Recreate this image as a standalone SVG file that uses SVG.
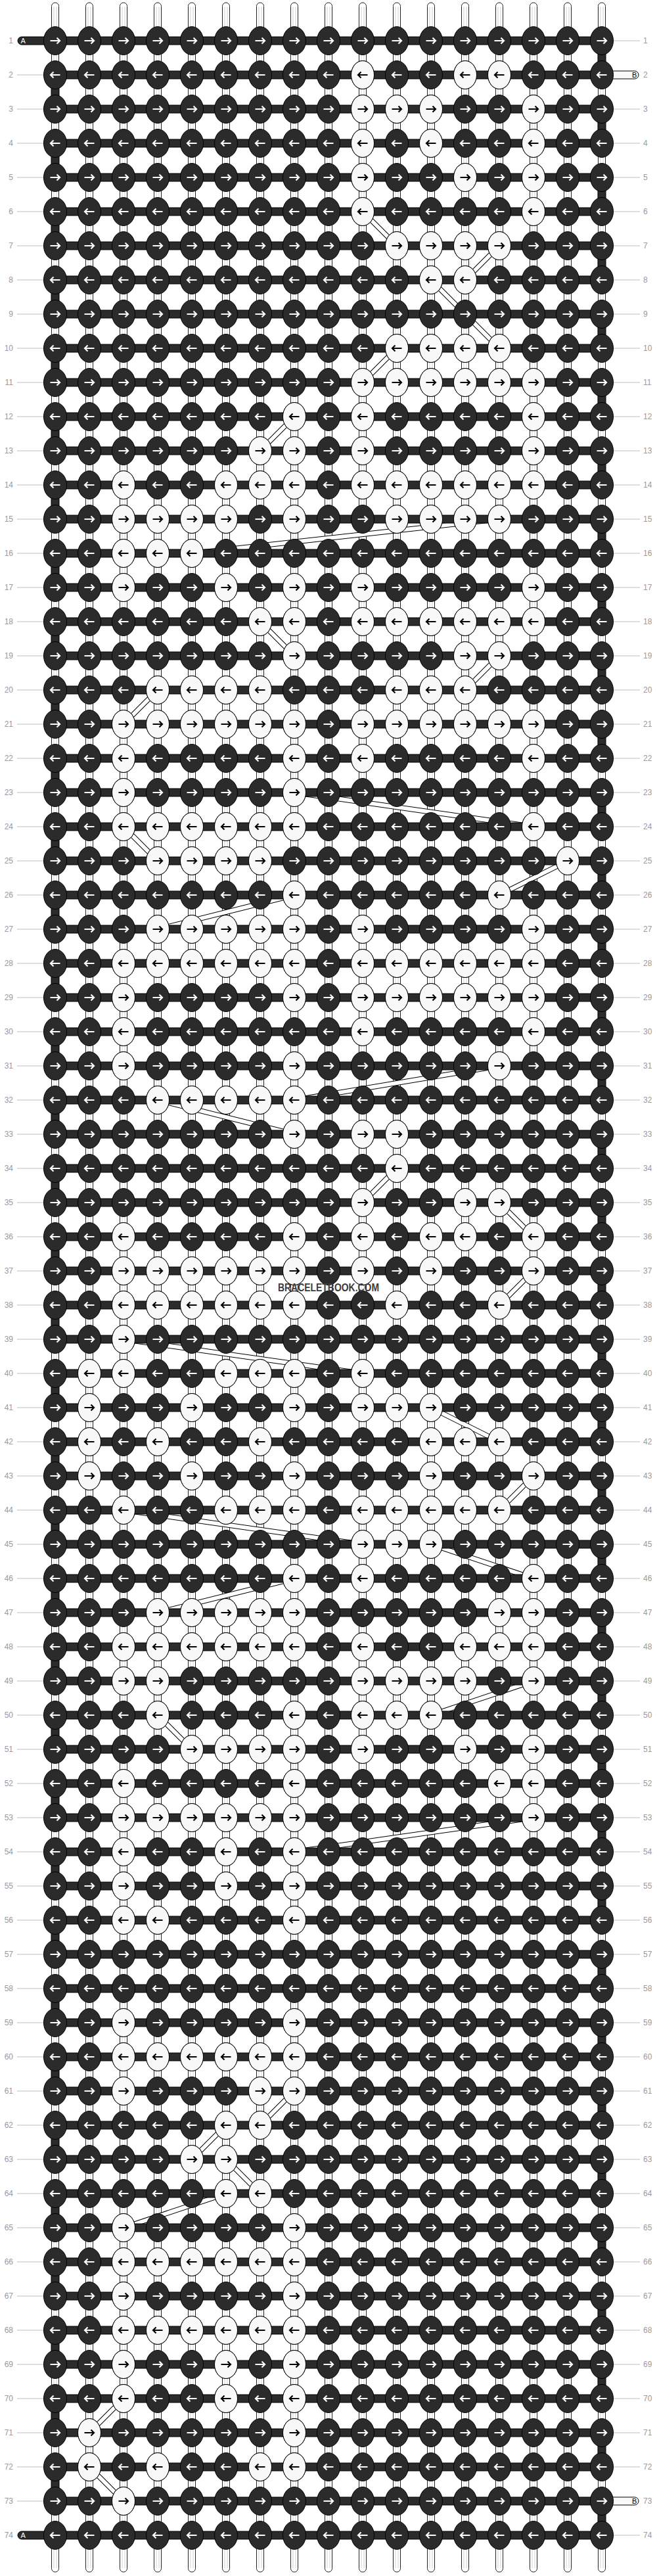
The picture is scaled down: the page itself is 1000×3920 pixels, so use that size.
<svg xmlns="http://www.w3.org/2000/svg" width="1000" height="3920" viewBox="0 0 1000 3920">
<style>
.d{fill:#2b2b2b;stroke:#000;stroke-width:1}
.l{fill:#f8f8f8;stroke:#000;stroke-width:1}
.aw{fill:none;stroke:#fff;stroke-width:2.2}
.ab{fill:none;stroke:#000;stroke-width:2.2}
.bar{fill:#2b2b2b;stroke:#000;stroke-width:1}
.str{fill:#fff;stroke:#222;stroke-width:1}
.strin{fill:none;stroke:#cfcfcf;stroke-width:1}
.lab{font-family:"Liberation Sans",Arial,sans-serif;font-size:12px;fill:#9a9a9a}
.lline{fill:none;stroke:#bdbdbd;stroke-width:1}
.dgo{fill:none;stroke:#000;stroke-width:8}
.dgi{fill:none;stroke:#fff;stroke-width:6}
.cap{font-family:"Liberation Sans",Arial,sans-serif;font-size:11px}
</style>
<defs>
<g id="dR"><ellipse class="d" rx="17.5" ry="21.5"/><path class="aw" d="M-7.5 0H7M2.5-4.5L7 0L2.5 4.5"/></g>
<g id="dL"><ellipse class="d" rx="17.5" ry="21.5"/><path class="aw" d="M7.5 0H-7M-2.5-4.5L-7 0L-2.5 4.5"/></g>
<g id="lR"><ellipse class="l" rx="17.5" ry="21.5"/><path class="ab" d="M-7.5 0H7M2.5-4.5L7 0L2.5 4.5"/></g>
<g id="lL"><ellipse class="l" rx="17.5" ry="21.5"/><path class="ab" d="M7.5 0H-7M-2.5-4.5L-7 0L-2.5 4.5"/></g>
<g id="RR"><rect class="bar" x="84" y="-6" width="832" height="12"/><use href="#dR" x="84"/><use href="#dR" x="136"/><use href="#dR" x="188"/><use href="#dR" x="240"/><use href="#dR" x="292"/><use href="#dR" x="344"/><use href="#dR" x="396"/><use href="#dR" x="448"/><use href="#dR" x="500"/><use href="#dR" x="552"/><use href="#dR" x="604"/><use href="#dR" x="656"/><use href="#dR" x="708"/><use href="#dR" x="760"/><use href="#dR" x="812"/><use href="#dR" x="864"/><use href="#dR" x="916"/></g>
<g id="LL"><rect class="bar" x="84" y="-6" width="832" height="12"/><use href="#dL" x="84"/><use href="#dL" x="136"/><use href="#dL" x="188"/><use href="#dL" x="240"/><use href="#dL" x="292"/><use href="#dL" x="344"/><use href="#dL" x="396"/><use href="#dL" x="448"/><use href="#dL" x="500"/><use href="#dL" x="552"/><use href="#dL" x="604"/><use href="#dL" x="656"/><use href="#dL" x="708"/><use href="#dL" x="760"/><use href="#dL" x="812"/><use href="#dL" x="864"/><use href="#dL" x="916"/></g>
<path id="diag" d="M552 322L604 374M760 374L708 426M656 426L760 530M604 530L552 582M448 634L396 686M760 790L292 842M396 946L448 998M760 998L708 1050M240 1050L188 1102M448 1206L812 1258M188 1258L240 1310M864 1310L760 1362M448 1362L240 1414M760 1622L448 1674M240 1674L448 1726M604 1778L552 1830M760 1830L812 1882M812 1934L760 1986M188 2038L552 2090M656 2142L760 2194M812 2246L760 2298M188 2298L552 2350M656 2350L812 2402M448 2402L240 2454M812 2558L656 2610M240 2610L292 2662M812 2766L448 2818M448 3182L396 3234M344 3234L292 3286M344 3286L396 3338M344 3338L188 3390M188 3650L136 3702M136 3754L188 3806"/>
</defs>
<rect width="1000" height="3920" fill="#fff"/>
<g id="strings">
<rect class="str" x="78.5" y="4" width="11" height="3910" rx="5.5"/>
<rect class="str" x="130.5" y="4" width="11" height="3910" rx="5.5"/>
<rect class="str" x="182.5" y="4" width="11" height="3910" rx="5.5"/>
<rect class="str" x="234.5" y="4" width="11" height="3910" rx="5.5"/>
<rect class="str" x="286.5" y="4" width="11" height="3910" rx="5.5"/>
<rect class="str" x="338.5" y="4" width="11" height="3910" rx="5.5"/>
<rect class="str" x="390.5" y="4" width="11" height="3910" rx="5.5"/>
<rect class="str" x="442.5" y="4" width="11" height="3910" rx="5.5"/>
<rect class="str" x="494.5" y="4" width="11" height="3910" rx="5.5"/>
<rect class="str" x="546.5" y="4" width="11" height="3910" rx="5.5"/>
<rect class="str" x="598.5" y="4" width="11" height="3910" rx="5.5"/>
<rect class="str" x="650.5" y="4" width="11" height="3910" rx="5.5"/>
<rect class="str" x="702.5" y="4" width="11" height="3910" rx="5.5"/>
<rect class="str" x="754.5" y="4" width="11" height="3910" rx="5.5"/>
<rect class="str" x="806.5" y="4" width="11" height="3910" rx="5.5"/>
<rect class="str" x="858.5" y="4" width="11" height="3910" rx="5.5"/>
<rect class="str" x="910.5" y="4" width="11" height="3910" rx="5.5"/>
<path class="strin" d="M82 10V3908M86 10V3908M134 10V3908M138 10V3908M186 10V3908M190 10V3908M238 10V3908M242 10V3908M290 10V3908M294 10V3908M342 10V3908M346 10V3908M394 10V3908M398 10V3908M446 10V3908M450 10V3908M498 10V3908M502 10V3908M550 10V3908M554 10V3908M602 10V3908M606 10V3908M654 10V3908M658 10V3908M706 10V3908M710 10V3908M758 10V3908M762 10V3908M810 10V3908M814 10V3908M862 10V3908M866 10V3908M914 10V3908M918 10V3908"/>
</g>
<g id="edges">
<path class="bar" d="M78 129h12v22h-12zM78 233h12v22h-12zM78 337h12v22h-12zM78 441h12v22h-12zM78 545h12v22h-12zM78 649h12v22h-12zM78 753h12v22h-12zM78 857h12v22h-12zM78 961h12v22h-12zM78 1065h12v22h-12zM78 1169h12v22h-12zM78 1273h12v22h-12zM78 1377h12v22h-12zM78 1481h12v22h-12zM78 1585h12v22h-12zM78 1689h12v22h-12zM78 1793h12v22h-12zM78 1897h12v22h-12zM78 2001h12v22h-12zM78 2105h12v22h-12zM78 2209h12v22h-12zM78 2313h12v22h-12zM78 2417h12v22h-12zM78 2521h12v22h-12zM78 2625h12v22h-12zM78 2729h12v22h-12zM78 2833h12v22h-12zM78 2937h12v22h-12zM78 3041h12v22h-12zM78 3145h12v22h-12zM78 3249h12v22h-12zM78 3353h12v22h-12zM78 3457h12v22h-12zM78 3561h12v22h-12zM78 3665h12v22h-12zM78 3769h12v22h-12z"/>
<path class="bar" d="M910 77h12v22h-12zM910 181h12v22h-12zM910 285h12v22h-12zM910 389h12v22h-12zM910 493h12v22h-12zM910 597h12v22h-12zM910 701h12v22h-12zM910 805h12v22h-12zM910 909h12v22h-12zM910 1013h12v22h-12zM910 1117h12v22h-12zM910 1221h12v22h-12zM910 1325h12v22h-12zM910 1429h12v22h-12zM910 1533h12v22h-12zM910 1637h12v22h-12zM910 1741h12v22h-12zM910 1845h12v22h-12zM910 1949h12v22h-12zM910 2053h12v22h-12zM910 2157h12v22h-12zM910 2261h12v22h-12zM910 2365h12v22h-12zM910 2469h12v22h-12zM910 2573h12v22h-12zM910 2677h12v22h-12zM910 2781h12v22h-12zM910 2885h12v22h-12zM910 2989h12v22h-12zM910 3093h12v22h-12zM910 3197h12v22h-12zM910 3301h12v22h-12zM910 3405h12v22h-12zM910 3509h12v22h-12zM910 3613h12v22h-12zM910 3717h12v22h-12zM910 3821h12v22h-12z"/>
</g>
<g id="connectors">
<use href="#diag" class="dgo"/>
<use href="#diag" class="dgi"/>
</g>
<g id="threads">
<rect class="bar" x="27" y="56" width="60" height="12" rx="6"/>
<rect class="bar" x="27" y="3852" width="60" height="12" rx="6"/>
<rect x="905" y="108" width="67" height="12" rx="6" fill="#f8f8f8" stroke="#000"/>
<rect x="905" y="3800" width="67" height="12" rx="6" fill="#f8f8f8" stroke="#000"/>
<text class="cap" x="31.5" y="66" fill="#fff">A</text>
<text class="cap" x="31.5" y="3862" fill="#fff">A</text>
<text class="cap" x="962" y="118" fill="#000">B</text>
<text class="cap" x="962" y="3810" fill="#000">B</text>
</g>
<g id="row1" transform="translate(0,62)"><use href="#RR"/></g>
<g id="row2" transform="translate(0,114)"><use href="#LL"/><use href="#lL" x="552"/><use href="#lL" x="708"/><use href="#lL" x="760"/></g>
<g id="row3" transform="translate(0,166)"><use href="#RR"/><use href="#lR" x="552"/><use href="#lR" x="604"/><use href="#lR" x="656"/><use href="#lR" x="812"/></g>
<g id="row4" transform="translate(0,218)"><use href="#LL"/><use href="#lL" x="552"/><use href="#lL" x="656"/><use href="#lL" x="812"/></g>
<g id="row5" transform="translate(0,270)"><use href="#RR"/><use href="#lR" x="552"/><use href="#lR" x="708"/><use href="#lR" x="812"/></g>
<g id="row6" transform="translate(0,322)"><use href="#LL"/><use href="#lL" x="552"/><use href="#lL" x="812"/></g>
<g id="row7" transform="translate(0,374)"><use href="#RR"/><use href="#lR" x="604"/><use href="#lR" x="656"/><use href="#lR" x="708"/><use href="#lR" x="760"/></g>
<g id="row8" transform="translate(0,426)"><use href="#LL"/><use href="#lL" x="656"/><use href="#lL" x="708"/></g>
<g id="row9" transform="translate(0,478)"><use href="#RR"/></g>
<g id="row10" transform="translate(0,530)"><use href="#LL"/><use href="#lL" x="604"/><use href="#lL" x="656"/><use href="#lL" x="708"/><use href="#lL" x="760"/></g>
<g id="row11" transform="translate(0,582)"><use href="#RR"/><use href="#lR" x="552"/><use href="#lR" x="604"/><use href="#lR" x="656"/><use href="#lR" x="708"/><use href="#lR" x="760"/><use href="#lR" x="812"/></g>
<g id="row12" transform="translate(0,634)"><use href="#LL"/><use href="#lL" x="448"/><use href="#lL" x="552"/><use href="#lL" x="812"/></g>
<g id="row13" transform="translate(0,686)"><use href="#RR"/><use href="#lR" x="396"/><use href="#lR" x="448"/><use href="#lR" x="552"/><use href="#lR" x="812"/></g>
<g id="row14" transform="translate(0,738)"><use href="#LL"/><use href="#lL" x="188"/><use href="#lL" x="344"/><use href="#lL" x="396"/><use href="#lL" x="448"/><use href="#lL" x="552"/><use href="#lL" x="604"/><use href="#lL" x="656"/><use href="#lL" x="708"/><use href="#lL" x="760"/><use href="#lL" x="812"/></g>
<g id="row15" transform="translate(0,790)"><use href="#RR"/><use href="#lR" x="188"/><use href="#lR" x="240"/><use href="#lR" x="292"/><use href="#lR" x="344"/><use href="#lR" x="448"/><use href="#lR" x="604"/><use href="#lR" x="656"/><use href="#lR" x="708"/><use href="#lR" x="760"/></g>
<g id="row16" transform="translate(0,842)"><use href="#LL"/><use href="#lL" x="188"/><use href="#lL" x="240"/><use href="#lL" x="292"/></g>
<g id="row17" transform="translate(0,894)"><use href="#RR"/><use href="#lR" x="188"/><use href="#lR" x="344"/><use href="#lR" x="448"/><use href="#lR" x="552"/><use href="#lR" x="812"/></g>
<g id="row18" transform="translate(0,946)"><use href="#LL"/><use href="#lL" x="396"/><use href="#lL" x="448"/><use href="#lL" x="552"/><use href="#lL" x="604"/><use href="#lL" x="656"/><use href="#lL" x="708"/><use href="#lL" x="760"/><use href="#lL" x="812"/></g>
<g id="row19" transform="translate(0,998)"><use href="#RR"/><use href="#lR" x="448"/><use href="#lR" x="708"/><use href="#lR" x="760"/></g>
<g id="row20" transform="translate(0,1050)"><use href="#LL"/><use href="#lL" x="240"/><use href="#lL" x="292"/><use href="#lL" x="344"/><use href="#lL" x="396"/><use href="#lL" x="604"/><use href="#lL" x="656"/><use href="#lL" x="708"/></g>
<g id="row21" transform="translate(0,1102)"><use href="#RR"/><use href="#lR" x="188"/><use href="#lR" x="240"/><use href="#lR" x="292"/><use href="#lR" x="344"/><use href="#lR" x="396"/><use href="#lR" x="448"/><use href="#lR" x="552"/><use href="#lR" x="604"/><use href="#lR" x="656"/><use href="#lR" x="708"/><use href="#lR" x="760"/><use href="#lR" x="812"/></g>
<g id="row22" transform="translate(0,1154)"><use href="#LL"/><use href="#lL" x="188"/><use href="#lL" x="448"/><use href="#lL" x="552"/><use href="#lL" x="812"/></g>
<g id="row23" transform="translate(0,1206)"><use href="#RR"/><use href="#lR" x="188"/><use href="#lR" x="448"/></g>
<g id="row24" transform="translate(0,1258)"><use href="#LL"/><use href="#lL" x="188"/><use href="#lL" x="240"/><use href="#lL" x="292"/><use href="#lL" x="344"/><use href="#lL" x="396"/><use href="#lL" x="448"/><use href="#lL" x="812"/></g>
<g id="row25" transform="translate(0,1310)"><use href="#RR"/><use href="#lR" x="240"/><use href="#lR" x="292"/><use href="#lR" x="344"/><use href="#lR" x="396"/><use href="#lR" x="864"/></g>
<g id="row26" transform="translate(0,1362)"><use href="#LL"/><use href="#lL" x="448"/><use href="#lL" x="760"/></g>
<g id="row27" transform="translate(0,1414)"><use href="#RR"/><use href="#lR" x="240"/><use href="#lR" x="292"/><use href="#lR" x="344"/><use href="#lR" x="396"/><use href="#lR" x="448"/><use href="#lR" x="552"/><use href="#lR" x="812"/></g>
<g id="row28" transform="translate(0,1466)"><use href="#LL"/><use href="#lL" x="188"/><use href="#lL" x="240"/><use href="#lL" x="292"/><use href="#lL" x="344"/><use href="#lL" x="396"/><use href="#lL" x="448"/><use href="#lL" x="552"/><use href="#lL" x="604"/><use href="#lL" x="656"/><use href="#lL" x="708"/><use href="#lL" x="760"/><use href="#lL" x="812"/></g>
<g id="row29" transform="translate(0,1518)"><use href="#RR"/><use href="#lR" x="188"/><use href="#lR" x="448"/><use href="#lR" x="552"/><use href="#lR" x="604"/><use href="#lR" x="656"/><use href="#lR" x="708"/><use href="#lR" x="760"/><use href="#lR" x="812"/></g>
<g id="row30" transform="translate(0,1570)"><use href="#LL"/><use href="#lL" x="188"/><use href="#lL" x="552"/><use href="#lL" x="812"/></g>
<g id="row31" transform="translate(0,1622)"><use href="#RR"/><use href="#lR" x="188"/><use href="#lR" x="448"/><use href="#lR" x="760"/></g>
<g id="row32" transform="translate(0,1674)"><use href="#LL"/><use href="#lL" x="240"/><use href="#lL" x="292"/><use href="#lL" x="344"/><use href="#lL" x="396"/><use href="#lL" x="448"/></g>
<g id="row33" transform="translate(0,1726)"><use href="#RR"/><use href="#lR" x="448"/><use href="#lR" x="552"/><use href="#lR" x="604"/></g>
<g id="row34" transform="translate(0,1778)"><use href="#LL"/><use href="#lL" x="604"/></g>
<g id="row35" transform="translate(0,1830)"><use href="#RR"/><use href="#lR" x="552"/><use href="#lR" x="708"/><use href="#lR" x="760"/></g>
<g id="row36" transform="translate(0,1882)"><use href="#LL"/><use href="#lL" x="188"/><use href="#lL" x="448"/><use href="#lL" x="552"/><use href="#lL" x="656"/><use href="#lL" x="708"/><use href="#lL" x="812"/></g>
<g id="row37" transform="translate(0,1934)"><use href="#RR"/><use href="#lR" x="188"/><use href="#lR" x="240"/><use href="#lR" x="292"/><use href="#lR" x="344"/><use href="#lR" x="396"/><use href="#lR" x="448"/><use href="#lR" x="552"/><use href="#lR" x="656"/><use href="#lR" x="812"/></g>
<g id="row38" transform="translate(0,1986)"><use href="#LL"/><use href="#lL" x="188"/><use href="#lL" x="240"/><use href="#lL" x="292"/><use href="#lL" x="344"/><use href="#lL" x="396"/><use href="#lL" x="448"/><use href="#lL" x="604"/><use href="#lL" x="760"/></g>
<g id="row39" transform="translate(0,2038)"><use href="#RR"/><use href="#lR" x="188"/></g>
<g id="row40" transform="translate(0,2090)"><use href="#LL"/><use href="#lL" x="136"/><use href="#lL" x="188"/><use href="#lL" x="344"/><use href="#lL" x="396"/><use href="#lL" x="448"/><use href="#lL" x="552"/></g>
<g id="row41" transform="translate(0,2142)"><use href="#RR"/><use href="#lR" x="136"/><use href="#lR" x="292"/><use href="#lR" x="448"/><use href="#lR" x="552"/><use href="#lR" x="604"/><use href="#lR" x="656"/></g>
<g id="row42" transform="translate(0,2194)"><use href="#LL"/><use href="#lL" x="136"/><use href="#lL" x="240"/><use href="#lL" x="396"/><use href="#lL" x="656"/><use href="#lL" x="708"/><use href="#lL" x="760"/></g>
<g id="row43" transform="translate(0,2246)"><use href="#RR"/><use href="#lR" x="136"/><use href="#lR" x="292"/><use href="#lR" x="448"/><use href="#lR" x="656"/><use href="#lR" x="812"/></g>
<g id="row44" transform="translate(0,2298)"><use href="#LL"/><use href="#lL" x="188"/><use href="#lL" x="344"/><use href="#lL" x="396"/><use href="#lL" x="448"/><use href="#lL" x="552"/><use href="#lL" x="604"/><use href="#lL" x="656"/><use href="#lL" x="708"/><use href="#lL" x="760"/></g>
<g id="row45" transform="translate(0,2350)"><use href="#RR"/><use href="#lR" x="552"/><use href="#lR" x="604"/><use href="#lR" x="656"/></g>
<g id="row46" transform="translate(0,2402)"><use href="#LL"/><use href="#lL" x="448"/><use href="#lL" x="552"/><use href="#lL" x="812"/></g>
<g id="row47" transform="translate(0,2454)"><use href="#RR"/><use href="#lR" x="240"/><use href="#lR" x="292"/><use href="#lR" x="344"/><use href="#lR" x="396"/><use href="#lR" x="448"/><use href="#lR" x="760"/><use href="#lR" x="812"/></g>
<g id="row48" transform="translate(0,2506)"><use href="#LL"/><use href="#lL" x="188"/><use href="#lL" x="240"/><use href="#lL" x="292"/><use href="#lL" x="344"/><use href="#lL" x="396"/><use href="#lL" x="448"/><use href="#lL" x="552"/><use href="#lL" x="708"/><use href="#lL" x="760"/><use href="#lL" x="812"/></g>
<g id="row49" transform="translate(0,2558)"><use href="#RR"/><use href="#lR" x="188"/><use href="#lR" x="240"/><use href="#lR" x="552"/><use href="#lR" x="604"/><use href="#lR" x="656"/><use href="#lR" x="708"/><use href="#lR" x="812"/></g>
<g id="row50" transform="translate(0,2610)"><use href="#LL"/><use href="#lL" x="240"/><use href="#lL" x="448"/><use href="#lL" x="552"/><use href="#lL" x="604"/><use href="#lL" x="656"/></g>
<g id="row51" transform="translate(0,2662)"><use href="#RR"/><use href="#lR" x="292"/><use href="#lR" x="344"/><use href="#lR" x="396"/><use href="#lR" x="448"/><use href="#lR" x="552"/><use href="#lR" x="708"/><use href="#lR" x="812"/></g>
<g id="row52" transform="translate(0,2714)"><use href="#LL"/><use href="#lL" x="188"/><use href="#lL" x="448"/><use href="#lL" x="760"/><use href="#lL" x="812"/></g>
<g id="row53" transform="translate(0,2766)"><use href="#RR"/><use href="#lR" x="188"/><use href="#lR" x="240"/><use href="#lR" x="292"/><use href="#lR" x="344"/><use href="#lR" x="396"/><use href="#lR" x="448"/><use href="#lR" x="812"/></g>
<g id="row54" transform="translate(0,2818)"><use href="#LL"/><use href="#lL" x="188"/><use href="#lL" x="344"/><use href="#lL" x="448"/></g>
<g id="row55" transform="translate(0,2870)"><use href="#RR"/><use href="#lR" x="188"/><use href="#lR" x="344"/><use href="#lR" x="448"/></g>
<g id="row56" transform="translate(0,2922)"><use href="#LL"/><use href="#lL" x="188"/><use href="#lL" x="240"/><use href="#lL" x="448"/></g>
<g id="row57" transform="translate(0,2974)"><use href="#RR"/></g>
<g id="row58" transform="translate(0,3026)"><use href="#LL"/></g>
<g id="row59" transform="translate(0,3078)"><use href="#RR"/><use href="#lR" x="188"/><use href="#lR" x="448"/></g>
<g id="row60" transform="translate(0,3130)"><use href="#LL"/><use href="#lL" x="188"/><use href="#lL" x="240"/><use href="#lL" x="292"/><use href="#lL" x="344"/><use href="#lL" x="396"/><use href="#lL" x="448"/></g>
<g id="row61" transform="translate(0,3182)"><use href="#RR"/><use href="#lR" x="188"/><use href="#lR" x="396"/><use href="#lR" x="448"/></g>
<g id="row62" transform="translate(0,3234)"><use href="#LL"/><use href="#lL" x="344"/><use href="#lL" x="396"/></g>
<g id="row63" transform="translate(0,3286)"><use href="#RR"/><use href="#lR" x="292"/><use href="#lR" x="344"/></g>
<g id="row64" transform="translate(0,3338)"><use href="#LL"/><use href="#lL" x="344"/><use href="#lL" x="396"/></g>
<g id="row65" transform="translate(0,3390)"><use href="#RR"/><use href="#lR" x="188"/><use href="#lR" x="448"/></g>
<g id="row66" transform="translate(0,3442)"><use href="#LL"/><use href="#lL" x="188"/><use href="#lL" x="240"/><use href="#lL" x="292"/><use href="#lL" x="344"/><use href="#lL" x="396"/><use href="#lL" x="448"/></g>
<g id="row67" transform="translate(0,3494)"><use href="#RR"/><use href="#lR" x="188"/><use href="#lR" x="448"/></g>
<g id="row68" transform="translate(0,3546)"><use href="#LL"/><use href="#lL" x="188"/><use href="#lL" x="240"/><use href="#lL" x="292"/><use href="#lL" x="344"/><use href="#lL" x="396"/><use href="#lL" x="448"/></g>
<g id="row69" transform="translate(0,3598)"><use href="#RR"/><use href="#lR" x="188"/><use href="#lR" x="344"/><use href="#lR" x="448"/></g>
<g id="row70" transform="translate(0,3650)"><use href="#LL"/><use href="#lL" x="188"/><use href="#lL" x="344"/><use href="#lL" x="448"/></g>
<g id="row71" transform="translate(0,3702)"><use href="#RR"/><use href="#lR" x="136"/><use href="#lR" x="448"/></g>
<g id="row72" transform="translate(0,3754)"><use href="#LL"/><use href="#lL" x="136"/><use href="#lL" x="240"/><use href="#lL" x="396"/><use href="#lL" x="448"/></g>
<g id="row73" transform="translate(0,3806)"><use href="#RR"/><use href="#lR" x="188"/></g>
<g id="row74" transform="translate(0,3858)"><use href="#LL"/></g>
<g id="labellines">
<path class="lline" d="M26 114h40M26 166h40M26 218h40M26 270h40M26 322h40M26 374h40M26 426h40M26 478h40M26 530h40M26 582h40M26 634h40M26 686h40M26 738h40M26 790h40M26 842h40M26 894h40M26 946h40M26 998h40M26 1050h40M26 1102h40M26 1154h40M26 1206h40M26 1258h40M26 1310h40M26 1362h40M26 1414h40M26 1466h40M26 1518h40M26 1570h40M26 1622h40M26 1674h40M26 1726h40M26 1778h40M26 1830h40M26 1882h40M26 1934h40M26 1986h40M26 2038h40M26 2090h40M26 2142h40M26 2194h40M26 2246h40M26 2298h40M26 2350h40M26 2402h40M26 2454h40M26 2506h40M26 2558h40M26 2610h40M26 2662h40M26 2714h40M26 2766h40M26 2818h40M26 2870h40M26 2922h40M26 2974h40M26 3026h40M26 3078h40M26 3130h40M26 3182h40M26 3234h40M26 3286h40M26 3338h40M26 3390h40M26 3442h40M26 3494h40M26 3546h40M26 3598h40M26 3650h40M26 3702h40M26 3754h40M26 3806h40"/>
<path class="lline" d="M934 62h40M934 166h40M934 218h40M934 270h40M934 322h40M934 374h40M934 426h40M934 478h40M934 530h40M934 582h40M934 634h40M934 686h40M934 738h40M934 790h40M934 842h40M934 894h40M934 946h40M934 998h40M934 1050h40M934 1102h40M934 1154h40M934 1206h40M934 1258h40M934 1310h40M934 1362h40M934 1414h40M934 1466h40M934 1518h40M934 1570h40M934 1622h40M934 1674h40M934 1726h40M934 1778h40M934 1830h40M934 1882h40M934 1934h40M934 1986h40M934 2038h40M934 2090h40M934 2142h40M934 2194h40M934 2246h40M934 2298h40M934 2350h40M934 2402h40M934 2454h40M934 2506h40M934 2558h40M934 2610h40M934 2662h40M934 2714h40M934 2766h40M934 2818h40M934 2870h40M934 2922h40M934 2974h40M934 3026h40M934 3078h40M934 3130h40M934 3182h40M934 3234h40M934 3286h40M934 3338h40M934 3390h40M934 3442h40M934 3494h40M934 3546h40M934 3598h40M934 3650h40M934 3702h40M934 3754h40M934 3858h40"/>
</g>
<g id="labels-left" class="lab" text-anchor="end">
<text x="20" y="66">1</text><text x="20" y="118">2</text><text x="20" y="170">3</text><text x="20" y="222">4</text><text x="20" y="274">5</text><text x="20" y="326">6</text><text x="20" y="378">7</text><text x="20" y="430">8</text><text x="20" y="482">9</text><text x="20" y="534">10</text>
<text x="20" y="586">11</text><text x="20" y="638">12</text><text x="20" y="690">13</text><text x="20" y="742">14</text><text x="20" y="794">15</text><text x="20" y="846">16</text><text x="20" y="898">17</text><text x="20" y="950">18</text><text x="20" y="1002">19</text><text x="20" y="1054">20</text>
<text x="20" y="1106">21</text><text x="20" y="1158">22</text><text x="20" y="1210">23</text><text x="20" y="1262">24</text><text x="20" y="1314">25</text><text x="20" y="1366">26</text><text x="20" y="1418">27</text><text x="20" y="1470">28</text><text x="20" y="1522">29</text><text x="20" y="1574">30</text>
<text x="20" y="1626">31</text><text x="20" y="1678">32</text><text x="20" y="1730">33</text><text x="20" y="1782">34</text><text x="20" y="1834">35</text><text x="20" y="1886">36</text><text x="20" y="1938">37</text><text x="20" y="1990">38</text><text x="20" y="2042">39</text><text x="20" y="2094">40</text>
<text x="20" y="2146">41</text><text x="20" y="2198">42</text><text x="20" y="2250">43</text><text x="20" y="2302">44</text><text x="20" y="2354">45</text><text x="20" y="2406">46</text><text x="20" y="2458">47</text><text x="20" y="2510">48</text><text x="20" y="2562">49</text><text x="20" y="2614">50</text>
<text x="20" y="2666">51</text><text x="20" y="2718">52</text><text x="20" y="2770">53</text><text x="20" y="2822">54</text><text x="20" y="2874">55</text><text x="20" y="2926">56</text><text x="20" y="2978">57</text><text x="20" y="3030">58</text><text x="20" y="3082">59</text><text x="20" y="3134">60</text>
<text x="20" y="3186">61</text><text x="20" y="3238">62</text><text x="20" y="3290">63</text><text x="20" y="3342">64</text><text x="20" y="3394">65</text><text x="20" y="3446">66</text><text x="20" y="3498">67</text><text x="20" y="3550">68</text><text x="20" y="3602">69</text><text x="20" y="3654">70</text>
<text x="20" y="3706">71</text><text x="20" y="3758">72</text><text x="20" y="3810">73</text><text x="20" y="3862">74</text>
</g>
<g id="labels-right" class="lab">
<text x="979" y="66">1</text><text x="979" y="118">2</text><text x="979" y="170">3</text><text x="979" y="222">4</text><text x="979" y="274">5</text><text x="979" y="326">6</text><text x="979" y="378">7</text><text x="979" y="430">8</text><text x="979" y="482">9</text><text x="979" y="534">10</text>
<text x="979" y="586">11</text><text x="979" y="638">12</text><text x="979" y="690">13</text><text x="979" y="742">14</text><text x="979" y="794">15</text><text x="979" y="846">16</text><text x="979" y="898">17</text><text x="979" y="950">18</text><text x="979" y="1002">19</text><text x="979" y="1054">20</text>
<text x="979" y="1106">21</text><text x="979" y="1158">22</text><text x="979" y="1210">23</text><text x="979" y="1262">24</text><text x="979" y="1314">25</text><text x="979" y="1366">26</text><text x="979" y="1418">27</text><text x="979" y="1470">28</text><text x="979" y="1522">29</text><text x="979" y="1574">30</text>
<text x="979" y="1626">31</text><text x="979" y="1678">32</text><text x="979" y="1730">33</text><text x="979" y="1782">34</text><text x="979" y="1834">35</text><text x="979" y="1886">36</text><text x="979" y="1938">37</text><text x="979" y="1990">38</text><text x="979" y="2042">39</text><text x="979" y="2094">40</text>
<text x="979" y="2146">41</text><text x="979" y="2198">42</text><text x="979" y="2250">43</text><text x="979" y="2302">44</text><text x="979" y="2354">45</text><text x="979" y="2406">46</text><text x="979" y="2458">47</text><text x="979" y="2510">48</text><text x="979" y="2562">49</text><text x="979" y="2614">50</text>
<text x="979" y="2666">51</text><text x="979" y="2718">52</text><text x="979" y="2770">53</text><text x="979" y="2822">54</text><text x="979" y="2874">55</text><text x="979" y="2926">56</text><text x="979" y="2978">57</text><text x="979" y="3030">58</text><text x="979" y="3082">59</text><text x="979" y="3134">60</text>
<text x="979" y="3186">61</text><text x="979" y="3238">62</text><text x="979" y="3290">63</text><text x="979" y="3342">64</text><text x="979" y="3394">65</text><text x="979" y="3446">66</text><text x="979" y="3498">67</text><text x="979" y="3550">68</text><text x="979" y="3602">69</text><text x="979" y="3654">70</text>
<text x="979" y="3706">71</text><text x="979" y="3758">72</text><text x="979" y="3810">73</text><text x="979" y="3862">74</text>
</g>
<text id="watermark" x="500" y="1965" text-anchor="middle" font-family="'Liberation Sans',Arial,sans-serif" font-weight="bold" font-size="16" fill="#3c3c3c" textLength="154" lengthAdjust="spacingAndGlyphs">BRACELETBOOK.COM</text>
</svg>
